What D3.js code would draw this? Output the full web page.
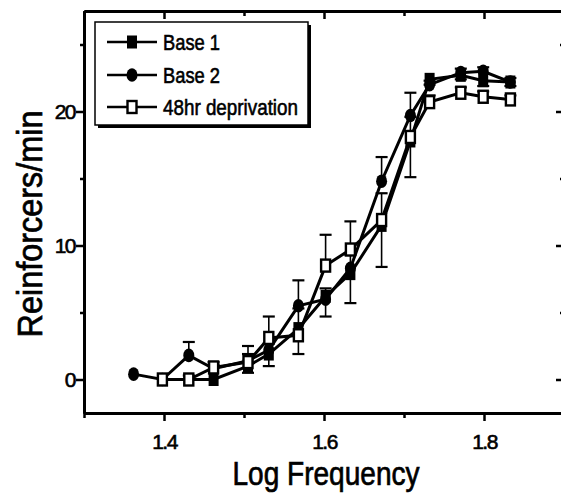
<!DOCTYPE html>
<html>
<head>
<meta charset="utf-8">
<script src="https://cdn.jsdelivr.net/npm/d3@7"></script>
<style>
  body { margin: 0; background: #fff; }
  svg { display: block; font-family: "Liberation Sans", Arial, sans-serif; }
</style>
</head>
<body>
<div id="chart"></div>
<script>
// log10 of the reinforcement frequencies on the x axis
const logFreq = [1.362, 1.398, 1.431, 1.462, 1.505, 1.531, 1.568, 1.602, 1.633, 1.672, 1.708, 1.732, 1.771, 1.799, 1.833];

// reinforcers/min for each condition (null = no point)
const base1 = [null, 0.0, 0.0, 0.0, 1.0, 1.9, 3.8, 6.2, 7.9, 11.5, 17.8, 22.4, 22.7, 22.3, 22.2];
const base2 = [0.4, 0.0, 1.8, 0.8, 1.4, 2.2, 5.5, 6.0, 8.3, 14.8, 19.7, 22.0, 22.9, 23.0, 22.2];
const hr48 = [null, 0.0, 0.0, 0.9, 1.3, 3.1, 3.3, 8.5, 9.7, 11.9, 18.1, 20.7, 21.4, 21.1, 20.9];

// error bar lengths (Base 1 drawn downward, the others upward)
const base1Err = [null, 0, 0, 0, 0.5, 0.9, 1.9, 1.5, 2.2, 3.1, 2.7, 0.4, 0.3, 0.4, 0.3];
const base2Err = [0.2, 0.2, 1.0, 0.3, 0.5, 0.5, 1.9, 0.8, 1.0, 1.8, 1.7, 0.3, 0.3, 0.3, 0.3];
const hr48Err = [null, 0, 0.3, 0.4, 1.2, 1.6, 2.0, 2.3, 2.1, 2.0, 1.5, 0.5, 0.4, 0.4, 0.3];

const seriesNames = ['Base 1', 'Base 2', '48hr deprivation'];
const xMajorTicks = [1.4, 1.6, 1.8];
const xMinorTicks = [1.3, 1.5, 1.7, 1.9];
const yMajorTicks = [0, 10, 20];
const yMinorTicks = [5, 15, 25];

const W = 561;
const H = 495;
const margin = { top: 11, right: -3, bottom: 82, left: 84 };
const innerW = W - margin.left - margin.right;
const innerH = H - margin.top - margin.bottom;

const x = d3.scaleLinear().domain([1.3, 1.9]).range([0, innerW]);
const y = d3.scaleLinear().domain([-2.5, 27.5]).range([innerH, 0]);

const svg = d3.select('#chart').append('svg')
  .attr('width', W)
  .attr('height', H);

const g = svg.append('g')
  .attr('transform', `translate(${margin.left},${margin.top})`);

function styleAxis(sel, tickW) {
  sel.select('.domain').attr('stroke', '#000').attr('stroke-width', 3);
  sel.selectAll('.tick line').attr('stroke', '#000').attr('stroke-width', tickW);
  sel.selectAll('.tick text')
    .attr('fill', '#000')
    .attr('stroke', '#000')
    .attr('stroke-width', 0.6)
    .attr('font-size', 21)
    .attr('letter-spacing', -1.5);
}

// bottom axis, ticks outward
g.append('g')
  .attr('transform', `translate(0,${innerH})`)
  .call(d3.axisBottom(x).tickValues(xMajorTicks).tickSize(8).tickSizeOuter(0)
    .tickPadding(13).tickFormat(d3.format('.1f')))
  .call((s) => styleAxis(s, 2.5));
g.append('g')
  .attr('transform', `translate(0,${innerH})`)
  .call(d3.axisBottom(x).tickValues(xMinorTicks).tickSize(5).tickSizeOuter(0).tickFormat(''))
  .call((s) => styleAxis(s, 2.5));

// top axis, ticks inward
g.append('g')
  .call(d3.axisBottom(x).tickValues(xMajorTicks).tickSize(8).tickSizeOuter(0).tickFormat(''))
  .call((s) => styleAxis(s, 2.5));
g.append('g')
  .call(d3.axisBottom(x).tickValues(xMinorTicks).tickSize(5).tickSizeOuter(0).tickFormat(''))
  .call((s) => styleAxis(s, 2.5));

// left axis, ticks outward
g.append('g')
  .call(d3.axisLeft(y).tickValues(yMajorTicks).tickSize(8).tickSizeOuter(0).tickPadding(1))
  .call((s) => styleAxis(s, 2.5));
g.append('g')
  .call(d3.axisLeft(y).tickValues(yMinorTicks).tickSize(4).tickSizeOuter(0).tickFormat(''))
  .call((s) => styleAxis(s, 2.5));

// right axis, ticks inward
g.append('g')
  .attr('transform', `translate(${innerW},0)`)
  .call(d3.axisLeft(y).tickValues(yMajorTicks).tickSize(8).tickSizeOuter(0).tickFormat(''))
  .call((s) => styleAxis(s, 2.5));
g.append('g')
  .attr('transform', `translate(${innerW},0)`)
  .call(d3.axisLeft(y).tickValues(yMinorTicks).tickSize(4).tickSizeOuter(0).tickFormat(''))
  .call((s) => styleAxis(s, 2.5));

// axis titles
svg.append('text')
  .attr('x', 326)
  .attr('y', 485)
  .attr('text-anchor', 'middle')
  .attr('font-size', 33)
  .attr('stroke', '#000')
  .attr('stroke-width', 0.7)
  .attr('textLength', 187)
  .attr('lengthAdjust', 'spacingAndGlyphs')
  .text('Log Frequency');

svg.append('text')
  .attr('transform', 'translate(42,224) rotate(-90)')
  .attr('text-anchor', 'middle')
  .attr('font-size', 35)
  .attr('stroke', '#000')
  .attr('stroke-width', 0.7)
  .attr('textLength', 227)
  .attr('lengthAdjust', 'spacingAndGlyphs')
  .text('Reinforcers/min');

const series = [
  { name: seriesNames[0], values: base1, err: base1Err, dir: -1, marker: 'fsquare' },
  { name: seriesNames[1], values: base2, err: base2Err, dir: 1, marker: 'circle' },
  { name: seriesNames[2], values: hr48, err: hr48Err, dir: 1, marker: 'osquare' },
];

function drawMarker(sel, type) {
  if (type === 'circle') {
    sel.append('ellipse').attr('rx', 5.5).attr('ry', 6.8).attr('fill', '#000');
  } else if (type === 'fsquare') {
    sel.append('rect').attr('x', -5).attr('y', -6.5).attr('width', 10).attr('height', 13)
      .attr('fill', '#000');
  } else {
    sel.append('rect').attr('x', -4.5).attr('y', -6).attr('width', 9).attr('height', 12)
      .attr('fill', '#fff').attr('stroke', '#000').attr('stroke-width', 2.4);
  }
}

const line = d3.line()
  .defined((d) => d.v != null)
  .x((d) => x(d.x))
  .y((d) => y(d.v));

series.forEach((s) => {
  const pts = logFreq.map((f, i) => ({ x: f, v: s.values[i], e: s.err[i] }))
    .filter((d) => d.v != null);
  const sg = g.append('g').attr('class', 'series');

  // error bars
  const eb = sg.selectAll('.err')
    .data(pts.filter((d) => d.e > 0.25))
    .join('g')
    .attr('class', 'err');
  eb.append('line')
    .attr('x1', (d) => x(d.x)).attr('x2', (d) => x(d.x))
    .attr('y1', (d) => y(d.v)).attr('y2', (d) => y(d.v + s.dir * d.e))
    .attr('stroke', '#000').attr('stroke-width', 1.6);
  eb.append('line')
    .attr('x1', (d) => x(d.x) - 6).attr('x2', (d) => x(d.x) + 6)
    .attr('y1', (d) => y(d.v + s.dir * d.e)).attr('y2', (d) => y(d.v + s.dir * d.e))
    .attr('stroke', '#000').attr('stroke-width', 2.2);

  sg.append('path')
    .datum(pts)
    .attr('fill', 'none')
    .attr('stroke', '#000')
    .attr('stroke-width', 3)
    .attr('d', line);

  sg.selectAll('.pt')
    .data(pts)
    .join('g')
    .attr('class', 'pt')
    .attr('transform', (d) => `translate(${x(d.x)},${y(d.v)})`)
    .each(function () { drawMarker(d3.select(this), s.marker); });
});

// legend with drop shadow
const legend = svg.append('g').attr('transform', 'translate(95,22)');
legend.append('rect')
  .attr('x', 3).attr('y', 3).attr('width', 213).attr('height', 103)
  .attr('fill', '#000');
legend.append('rect')
  .attr('width', 213).attr('height', 103)
  .attr('fill', '#fff').attr('stroke', '#000').attr('stroke-width', 1.5);

const legendRows = [20, 53, 85];
const legendLen = [57, 57, 135];
series.forEach((s, i) => {
  const row = legend.append('g').attr('transform', `translate(0,${legendRows[i]})`);
  row.append('line')
    .attr('x1', 12).attr('x2', 62)
    .attr('stroke', '#000').attr('stroke-width', 2.5);
  drawMarker(row.append('g').attr('transform', 'translate(37,0)'), s.marker);
  row.append('text')
    .attr('x', 68)
    .attr('y', 8)
    .attr('font-size', 22)
    .attr('stroke', '#000')
    .attr('stroke-width', 0.6)
    .attr('textLength', legendLen[i])
    .attr('lengthAdjust', 'spacingAndGlyphs')
    .text(s.name);
});
</script>
</body>
</html>
